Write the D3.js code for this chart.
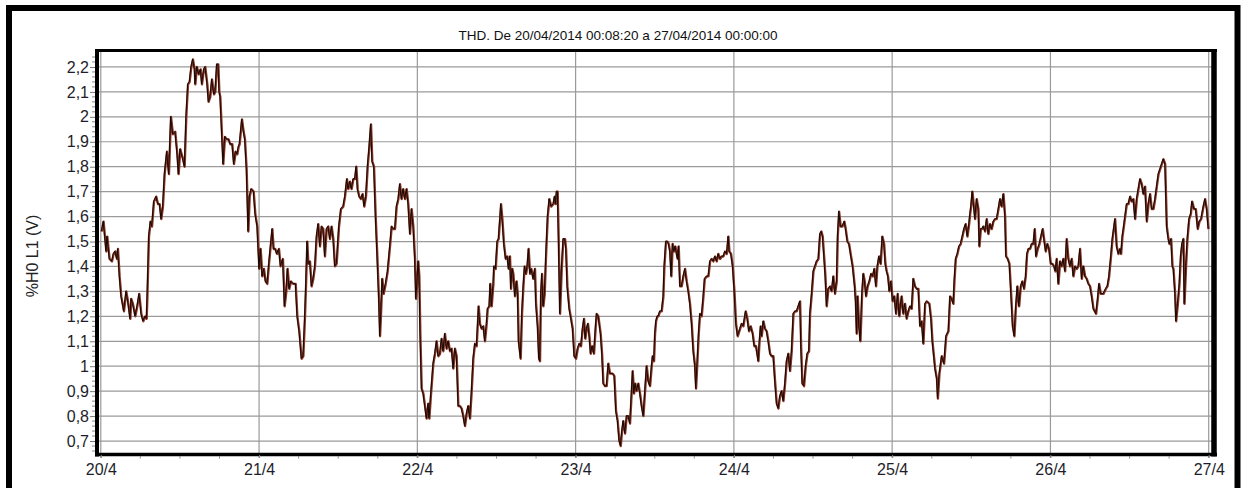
<!DOCTYPE html>
<html>
<head>
<meta charset="utf-8">
<script src="https://cdn.jsdelivr.net/npm/d3@7"></script>
<style>
  body { margin: 0; background: #fff; }
  text { font-family: "Liberation Sans", Arial, sans-serif; }
</style>
</head>
<body>
<svg id="chart" width="1241" height="488"></svg>
<script>
// THD %H0 L1 readings, hours since 20/04/2014 00:00 and value (V)
var titleText = "THD. De 20/04/2014 00:08:20 a 27/04/2014 00:00:00";
var yTitle = "%H0 L1 (V)";
var startDay = Date.UTC(2014, 3, 20);
var endDay = Date.UTC(2014, 3, 27);
var yTicks = [0.7, 0.8, 0.9, 1.0, 1.1, 1.2, 1.3, 1.4, 1.5, 1.6, 1.7, 1.8, 1.9, 2.0, 2.1, 2.2];

var apr20 = [[0.14,1.54],[0.43,1.58],[0.84,1.46],[0.99,1.52],[1.34,1.43],[1.70,1.42],[1.95,1.45],[2.20,1.46],[2.46,1.43],[2.61,1.47],[2.86,1.36],[3.11,1.28],[3.52,1.22],[3.87,1.30],[4.13,1.26],[4.48,1.19],[4.63,1.27],[4.88,1.25],[5.24,1.20],[5.54,1.24],[5.84,1.29],[6.15,1.21],[6.45,1.18],[6.75,1.20],[6.96,1.19],[7.06,1.27],[7.31,1.52],[7.56,1.58],[7.77,1.56],[8.07,1.66],[8.42,1.68],[8.68,1.65],[8.93,1.65],[9.18,1.59],[9.43,1.64],[9.69,1.77],[10.04,1.86],[10.34,1.77],[10.65,2.00],[10.95,1.93],[11.30,1.94],[11.61,1.85],[11.81,1.77],[12.06,1.87],[12.47,1.83],[12.72,1.80],[12.97,2.00],[13.23,2.13],[13.48,2.14],[13.73,2.20],[13.98,2.23],[14.24,2.19],[14.34,2.13],[14.59,2.20],[14.89,2.17],[15.15,2.19],[15.35,2.13],[15.65,2.19],[15.85,2.20],[16.16,2.13],[16.36,2.06],[16.61,2.08],[16.87,2.15],[17.17,2.09],[17.37,2.10],[17.62,2.21],[17.83,2.21],[17.98,2.10],[18.13,2.08],[18.38,1.93],[18.58,1.81],[18.84,1.92],[19.09,1.91],[19.39,1.91],[19.65,1.89],[19.95,1.89],[20.20,1.81],[20.46,1.86],[20.71,1.85],[20.91,1.88],[21.06,1.89],[21.42,1.99],[21.67,1.94],[21.87,1.91],[22.12,1.79],[22.38,1.54],[22.58,1.68],[22.83,1.71],[23.19,1.70],[23.44,1.61],[23.74,1.56]];

var apr21 = [[24.04,1.39],[24.25,1.47],[24.50,1.36],[24.75,1.39],[25.00,1.34],[25.26,1.33],[25.51,1.41],[25.76,1.48],[26.02,1.55],[26.22,1.47],[26.47,1.47],[26.72,1.45],[27.03,1.47],[27.28,1.40],[27.63,1.43],[27.89,1.24],[28.14,1.30],[28.34,1.39],[28.59,1.31],[28.85,1.34],[29.20,1.33],[29.56,1.33],[29.81,1.20],[30.11,1.14],[30.46,1.03],[30.72,1.04],[30.97,1.20],[31.12,1.32],[31.32,1.50],[31.48,1.41],[31.73,1.42],[31.98,1.32],[32.23,1.35],[32.49,1.40],[32.74,1.52],[32.99,1.57],[33.25,1.48],[33.50,1.56],[33.75,1.55],[34.00,1.44],[34.26,1.55],[34.51,1.56],[34.76,1.51],[35.02,1.56],[35.27,1.51],[35.52,1.40],[35.77,1.41],[36.13,1.56],[36.43,1.63],[36.78,1.64],[37.04,1.68],[37.34,1.75],[37.54,1.71],[37.80,1.74],[38.05,1.71],[38.30,1.75],[38.55,1.75],[38.76,1.80],[38.96,1.71],[39.21,1.68],[39.46,1.67],[39.72,1.69],[39.97,1.64],[40.22,1.68],[40.48,1.80],[40.73,1.88],[40.98,1.97],[41.18,1.82],[41.44,1.80],[41.69,1.60],[41.94,1.44],[42.19,1.27],[42.35,1.12],[42.50,1.21],[42.70,1.35],[42.90,1.29],[43.21,1.33],[43.51,1.38],[43.86,1.48],[44.12,1.56],[44.37,1.55],[44.62,1.55],[44.87,1.64],[45.13,1.67],[45.38,1.73],[45.63,1.67],[45.88,1.71],[46.14,1.67],[46.39,1.71],[46.64,1.65],[46.90,1.53],[47.15,1.63],[47.40,1.56],[47.65,1.43],[47.81,1.27],[47.96,1.32]];

var apr22 = [[48.16,1.42],[48.31,1.36],[48.46,1.13],[48.67,0.91],[48.92,0.89],[49.17,0.84],[49.42,0.79],[49.68,0.85],[49.83,0.79],[50.03,0.87],[50.23,0.94],[50.43,1.01],[50.69,1.05],[50.94,1.10],[51.19,1.04],[51.45,1.05],[51.70,1.11],[51.95,1.06],[52.20,1.13],[52.46,1.07],[52.71,1.10],[52.96,1.06],[53.22,1.07],[53.47,0.99],[53.72,1.07],[53.97,1.04],[54.23,0.84],[54.48,0.84],[54.73,0.83],[54.98,0.80],[55.24,0.76],[55.49,0.81],[55.74,0.84],[56.00,0.79],[56.25,0.90],[56.50,1.03],[56.75,1.09],[57.01,1.08],[57.16,1.16],[57.31,1.24],[57.51,1.17],[57.77,1.15],[58.02,1.16],[58.27,1.10],[58.52,1.17],[58.68,1.23],[58.93,1.24],[59.08,1.33],[59.28,1.24],[59.54,1.33],[59.64,1.40],[59.89,1.39],[60.14,1.50],[60.34,1.51],[60.55,1.59],[60.70,1.65],[60.90,1.59],[61.15,1.49],[61.41,1.43],[61.66,1.44],[61.86,1.39],[62.06,1.44],[62.21,1.31],[62.42,1.39],[62.57,1.37],[62.82,1.28],[63.07,1.34],[63.23,1.29],[63.38,1.10],[63.68,1.03],[63.88,1.21],[64.09,1.32],[64.29,1.40],[64.49,1.37],[64.69,1.40],[64.89,1.47],[65.10,1.37],[65.30,1.39],[65.60,1.35],[65.85,1.39],[66.01,1.25],[66.26,1.16],[66.46,1.03],[66.61,1.02],[66.76,1.29],[66.92,1.37],[67.12,1.24],[67.32,1.29],[67.52,1.44],[67.78,1.60],[68.03,1.67],[68.33,1.64],[68.64,1.65],[68.84,1.68],[68.99,1.65],[69.14,1.70],[69.29,1.70],[69.44,1.51],[69.65,1.21],[69.90,1.39],[70.15,1.51],[70.41,1.51],[70.56,1.47],[70.76,1.32],[71.06,1.23],[71.26,1.20],[71.57,1.15],[71.82,1.04]];

var apr23 = [[72.07,1.03],[72.33,1.07],[72.58,1.09],[72.83,1.08],[73.08,1.15],[73.29,1.19],[73.49,1.11],[73.69,1.15],[73.89,1.17],[74.10,1.12],[74.30,1.05],[74.55,1.08],[74.80,1.05],[75.06,1.16],[75.21,1.21],[75.46,1.20],[75.81,1.13],[76.02,1.05],[76.22,0.93],[76.47,0.92],[76.72,0.92],[76.98,1.01],[77.23,0.97],[77.63,0.97],[77.89,0.96],[78.14,0.82],[78.39,0.78],[78.64,0.70],[78.85,0.68],[79.05,0.74],[79.25,0.78],[79.51,0.73],[79.76,0.80],[80.01,0.80],[80.26,0.77],[80.52,0.90],[80.67,0.98],[80.87,0.89],[81.07,0.93],[81.27,0.90],[81.53,0.93],[81.78,0.89],[82.03,0.84],[82.29,0.80],[82.54,0.90],[82.79,1.00],[83.04,0.94],[83.30,0.92],[83.55,1.00],[83.70,1.04],[83.90,1.02],[84.05,1.13],[84.21,1.18],[84.41,1.20],[84.56,1.20],[84.81,1.22],[85.07,1.22],[85.32,1.28],[85.47,1.40],[85.72,1.50],[85.93,1.50],[86.13,1.49],[86.33,1.46],[86.53,1.36],[86.73,1.49],[86.94,1.46],[87.14,1.48],[87.34,1.45],[87.49,1.43],[87.64,1.48],[87.85,1.32],[88.10,1.32],[88.35,1.36],[88.61,1.39],[88.86,1.34],[89.11,1.30],[89.36,1.25],[89.62,1.17],[89.87,1.06],[90.12,1.00],[90.27,0.91],[90.48,1.02],[90.68,1.13],[90.88,1.21],[91.13,1.20],[91.39,1.28],[91.59,1.35],[91.89,1.36],[92.15,1.36],[92.40,1.42],[92.65,1.43],[92.90,1.42],[93.16,1.44],[93.41,1.42],[93.66,1.45],[93.91,1.43],[94.17,1.44],[94.42,1.44],[94.67,1.46],[94.93,1.45],[95.18,1.52],[95.33,1.46],[95.58,1.45],[95.84,1.40]];

var apr24 = [[96.09,1.30],[96.34,1.17],[96.59,1.12],[96.95,1.15],[97.20,1.17],[97.45,1.16],[97.81,1.22],[98.06,1.19],[98.31,1.14],[98.57,1.16],[98.87,1.13],[99.12,1.08],[99.37,1.08],[99.73,1.02],[99.88,1.09],[100.08,1.16],[100.23,1.12],[100.49,1.18],[100.74,1.15],[100.99,1.14],[101.24,1.10],[101.50,1.05],[101.75,1.04],[102.00,1.04],[102.25,0.94],[102.51,0.85],[102.76,0.83],[103.01,0.88],[103.27,0.90],[103.52,0.86],[103.77,0.93],[104.02,1.02],[104.28,1.05],[104.53,0.98],[104.78,1.06],[105.04,1.21],[105.29,1.22],[105.54,1.22],[105.79,1.24],[106.05,1.26],[106.20,1.08],[106.40,0.93],[106.65,0.92],[106.91,1.00],[107.16,1.05],[107.41,1.06],[107.56,1.21],[107.82,1.29],[108.07,1.38],[108.32,1.40],[108.57,1.42],[108.83,1.43],[109.08,1.53],[109.28,1.54],[109.48,1.52],[109.69,1.44],[109.89,1.36],[110.09,1.24],[110.34,1.31],[110.60,1.32],[110.85,1.30],[111.10,1.36],[111.35,1.29],[111.61,1.34],[111.76,1.52],[111.96,1.62],[112.21,1.56],[112.47,1.56],[112.77,1.58],[112.97,1.55],[113.23,1.50],[113.48,1.49],[113.78,1.44],[114.03,1.40],[114.34,1.32],[114.49,1.26],[114.64,1.13],[114.79,1.28],[115.00,1.16],[115.20,1.10],[115.45,1.29],[115.65,1.37],[115.85,1.34],[116.06,1.28],[116.31,1.32],[116.56,1.34],[116.82,1.37],[117.07,1.36],[117.32,1.39],[117.57,1.32],[117.78,1.40],[118.03,1.44],[118.28,1.41],[118.53,1.52],[118.79,1.49],[118.99,1.41],[119.19,1.38],[119.39,1.36],[119.60,1.30],[119.85,1.34]];

var apr25 = [[120.10,1.26],[120.35,1.28],[120.61,1.21],[120.86,1.29],[121.11,1.20],[121.46,1.28],[121.72,1.21],[121.97,1.25],[122.22,1.19],[122.48,1.22],[122.73,1.24],[122.98,1.23],[123.23,1.35],[123.49,1.32],[123.74,1.31],[123.99,1.31],[124.25,1.16],[124.50,1.18],[124.75,1.09],[125.01,1.25],[125.26,1.26],[125.66,1.25],[125.92,1.19],[126.12,1.10],[126.53,0.99],[126.79,0.95],[126.94,0.87],[127.18,0.97],[127.54,1.04],[127.89,1.01],[128.20,1.12],[128.55,1.14],[128.80,1.28],[129.05,1.27],[129.30,1.25],[129.45,1.34],[129.66,1.43],[129.91,1.45],[130.16,1.48],[130.41,1.49],[130.67,1.52],[130.92,1.55],[131.17,1.57],[131.43,1.52],[131.68,1.57],[131.83,1.61],[131.98,1.64],[132.18,1.70],[132.33,1.66],[132.59,1.59],[132.84,1.67],[133.09,1.63],[133.25,1.48],[133.45,1.55],[133.65,1.55],[133.85,1.56],[134.11,1.54],[134.36,1.59],[134.61,1.53],[134.86,1.57],[135.12,1.55],[135.37,1.58],[135.62,1.59],[135.87,1.59],[136.13,1.63],[136.38,1.67],[136.63,1.64],[136.89,1.69],[137.14,1.60],[137.29,1.44],[137.54,1.43],[137.80,1.41],[138.05,1.29],[138.30,1.16],[138.55,1.12],[138.76,1.23],[139.01,1.32],[139.26,1.24],[139.52,1.32],[139.77,1.34],[140.02,1.31],[140.27,1.36],[140.47,1.45],[140.68,1.47],[140.93,1.47],[141.18,1.49],[141.43,1.49],[141.64,1.55],[141.84,1.44],[142.09,1.47],[142.35,1.49],[142.60,1.52],[142.85,1.55],[143.10,1.50],[143.31,1.46],[143.56,1.49],[143.81,1.47]];

var apr26 = [[144.07,1.41],[144.32,1.41],[144.57,1.40],[144.77,1.38],[144.97,1.43],[145.23,1.33],[145.48,1.42],[145.73,1.40],[145.98,1.43],[146.24,1.38],[146.49,1.51],[146.74,1.43],[147.00,1.40],[147.25,1.43],[147.50,1.36],[147.76,1.40],[148.01,1.39],[148.26,1.40],[148.51,1.47],[148.77,1.35],[149.02,1.40],[149.27,1.36],[149.52,1.35],[149.78,1.33],[150.03,1.32],[150.28,1.28],[150.54,1.23],[150.94,1.21],[151.19,1.27],[151.40,1.33],[151.65,1.29],[152.05,1.29],[152.41,1.31],[152.66,1.32],[152.91,1.36],[153.16,1.43],[153.42,1.51],[153.67,1.56],[153.82,1.59],[154.07,1.48],[154.33,1.45],[154.58,1.47],[154.73,1.45],[154.93,1.52],[155.09,1.55],[155.34,1.60],[155.59,1.65],[155.84,1.65],[156.10,1.68],[156.35,1.66],[156.60,1.67],[156.86,1.59],[157.11,1.67],[157.36,1.71],[157.61,1.75],[157.87,1.73],[158.12,1.69],[158.37,1.72],[158.63,1.58],[158.88,1.65],[159.13,1.69],[159.38,1.63],[159.64,1.63],[159.89,1.67],[160.14,1.72],[160.40,1.77],[160.65,1.79],[160.90,1.81],[161.15,1.83],[161.41,1.81],[161.66,1.56],[161.91,1.51],[162.06,1.49],[162.32,1.51],[162.52,1.40],[162.67,1.39],[162.92,1.29],[163.07,1.18],[163.33,1.25],[163.58,1.33],[163.78,1.44],[163.98,1.49],[164.19,1.51],[164.34,1.25],[164.59,1.41],[164.79,1.51],[165.05,1.59],[165.30,1.61],[165.50,1.66],[165.80,1.63],[166.06,1.63],[166.36,1.55],[166.61,1.58],[166.87,1.59],[167.22,1.64],[167.47,1.67],[167.72,1.63],[167.98,1.55]];

var readings = [].concat(apr20, apr21, apr22, apr23, apr24, apr25, apr26);

var svg = d3.select("#chart");

// plot box edges
var boxLeft = 97, boxTop = 50.5, boxRight = 1214, boxBottom = 454.5;

var x = d3.scaleUtc()
  .domain([new Date(startDay), new Date(endDay)])
  .range([100.8, 1208.7]);

var y = d3.scaleLinear()
  .domain([0.652, 2.264])
  .range([453, 51]);

function toDate(h) { return new Date(startDay + h * 3600000); }

var fmtComma = function(v) { return d3.format(".1f")(v).replace(".0", "").replace(".", ","); };

// outer frame (its bottom edge is cut off)
svg.append("rect")
  .attr("x", 9).attr("y", 8)
  .attr("width", 1228.5).attr("height", 600)
  .attr("fill", "none")
  .attr("stroke", "#000")
  .attr("stroke-width", 6);

// title
svg.append("text")
  .attr("x", 618).attr("y", 40)
  .attr("text-anchor", "middle")
  .attr("font-size", "13.5px")
  .attr("fill", "#111")
  .text(titleText);

// y title
svg.append("text")
  .attr("transform", "translate(38,256) rotate(-90)")
  .attr("text-anchor", "middle")
  .attr("font-size", "16px")
  .attr("fill", "#222")
  .text(yTitle);

// horizontal grid
svg.append("g").selectAll("line")
  .data(yTicks)
  .enter().append("line")
    .attr("x1", boxLeft).attr("x2", 1216)
    .attr("y1", function(d) { return y(d); })
    .attr("y2", function(d) { return y(d); })
    .attr("stroke", "#9a9a9a")
    .attr("stroke-width", 1.2);

// vertical grid, one per day
var days = d3.utcDay.range(new Date(startDay), new Date(endDay + 1));
svg.append("g").selectAll("line")
  .data(days)
  .enter().append("line")
    .attr("x1", function(d) { return x(d); })
    .attr("x2", function(d) { return x(d); })
    .attr("y1", boxTop).attr("y2", 458)
    .attr("stroke", "#9a9a9a")
    .attr("stroke-width", 1.2);

// the series: brown under-stroke with a dark core
var line = d3.line()
  .x(function(d) { return x(toDate(d[0])); })
  .y(function(d) { return y(d[1]); });

svg.append("path")
  .datum(readings)
  .attr("d", line)
  .attr("fill", "none")
  .attr("stroke", "#8a3523")
  .attr("stroke-width", 2.3)
  .attr("stroke-linejoin", "round");

svg.append("path")
  .datum(readings)
  .attr("d", line)
  .attr("transform", "translate(-0.4,-0.3)")
  .attr("fill", "none")
  .attr("stroke", "#140805")
  .attr("stroke-width", 1)
  .attr("stroke-linejoin", "round");

// plot frame
var frame = svg.append("g").attr("stroke", "#000");
frame.append("line").attr("x1", boxLeft - 2).attr("x2", boxRight + 3).attr("y1", boxTop).attr("y2", boxTop).attr("stroke-width", 3);
frame.append("line").attr("x1", boxLeft).attr("x2", boxLeft).attr("y1", boxTop - 1.5).attr("y2", boxBottom + 2).attr("stroke-width", 4);
frame.append("line").attr("x1", boxRight).attr("x2", boxRight).attr("y1", boxTop - 1.5).attr("y2", boxBottom + 2).attr("stroke-width", 5.5);
frame.append("line").attr("x1", boxLeft - 2).attr("x2", boxRight + 3).attr("y1", boxBottom).attr("y2", boxBottom).attr("stroke-width", 3.5);

// y axis: labels and major ticks
var yAxis = d3.axisLeft(y)
  .tickValues(yTicks)
  .tickFormat(fmtComma)
  .tickSize(5)
  .tickPadding(1);

var gy = svg.append("g")
  .attr("transform", "translate(95,0)")
  .call(yAxis);
gy.select(".domain").remove();
gy.selectAll(".tick line").attr("stroke", "#777");
gy.selectAll(".tick text")
  .attr("font-family", "Liberation Sans, Arial, sans-serif")
  .attr("font-size", "16px")
  .attr("fill", "#1e1e2a");

// y minor ticks
var yMinor = d3.range(0.66, 2.26, 0.02).filter(function(v) {
  return Math.abs(v * 10 - Math.round(v * 10)) > 0.01;
});
svg.append("g").selectAll("line")
  .data(yMinor)
  .enter().append("line")
    .attr("x1", 92).attr("x2", 95)
    .attr("y1", function(d) { return y(d); })
    .attr("y2", function(d) { return y(d); })
    .attr("stroke", "#888")
    .attr("stroke-width", 1);

// x axis
var xAxis = d3.axisBottom(x)
  .ticks(d3.utcDay.every(1))
  .tickFormat(d3.utcFormat("%-d/%-m"))
  .tickSize(3)
  .tickPadding(6);

var gx = svg.append("g")
  .attr("transform", "translate(0,455)")
  .call(xAxis);
gx.select(".domain").remove();
gx.selectAll(".tick line").attr("stroke", "#888");
gx.selectAll(".tick text")
  .attr("font-family", "Liberation Sans, Arial, sans-serif")
  .attr("font-size", "16px")
  .attr("fill", "#1e1e2a");

// x minor ticks every 6 hours
var sixHours = d3.utcHour.every(6).range(new Date(startDay), new Date(endDay))
  .filter(function(d) { return d.getUTCHours() !== 0; });
svg.append("g").selectAll("line")
  .data(sixHours)
  .enter().append("line")
    .attr("x1", function(d) { return x(d); })
    .attr("x2", function(d) { return x(d); })
    .attr("y1", 456).attr("y2", 458.5)
    .attr("stroke", "#888")
    .attr("stroke-width", 1);
</script>
</body>
</html>
